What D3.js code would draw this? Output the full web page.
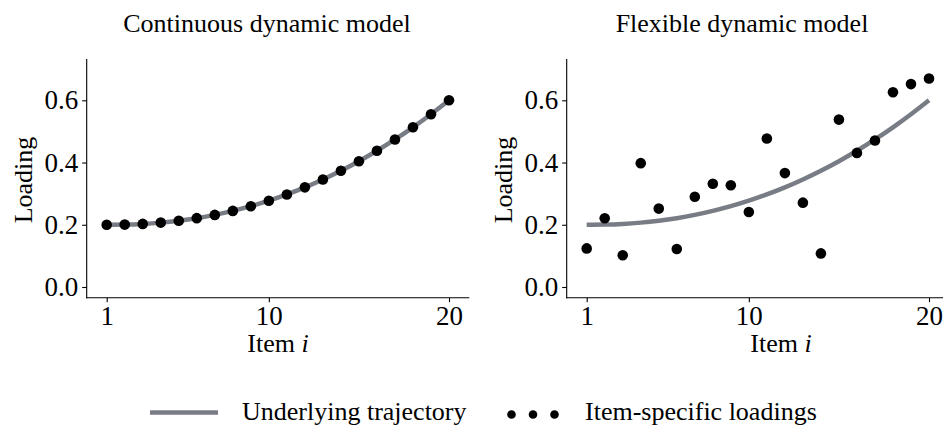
<!DOCTYPE html>
<html>
<head>
<meta charset="utf-8">
<script src="https://cdn.jsdelivr.net/npm/d3@7"></script>
<style>
  html, body { margin: 0; padding: 0; background: #fff; }
  svg { display: block; font-family: "Liberation Serif", "Times New Roman", serif; }
</style>
</head>
<body>
<svg id="chart" width="943" height="428"></svg>
<script>
// Item indices
const items = [1,2,3,4,5,6,7,8,9,10,11,12,13,14,15,16,17,18,19,20];

// Underlying trajectory (shared by both models)
const trajectory = [0.2000,0.2006,0.2028,0.2069,0.2130,0.2212,0.2317,0.2445,0.2597,0.2773,
                    0.2975,0.3202,0.3456,0.3736,0.4043,0.4378,0.4741,0.5132,0.5551,0.6000];

// Item-specific loadings, continuous model (they sit on the trajectory)
const continuousLoadings = [0.2000,0.2006,0.2028,0.2069,0.2130,0.2212,0.2317,0.2445,0.2597,0.2773,
                            0.2975,0.3202,0.3456,0.3736,0.4043,0.4378,0.4741,0.5132,0.5551,0.6000];

// Item-specific loadings, flexible model
const flexibleLoadings = [0.124,0.221,0.102,0.398,0.252,0.122,0.290,0.332,0.327,0.241,
                          0.477,0.366,0.271,0.108,0.538,0.431,0.471,0.626,0.652,0.670];

const panelTitles = ["Continuous dynamic model", "Flexible dynamic model"];
const xTicks = [1, 10, 20];
const yTicks = [0.0, 0.2, 0.4, 0.6];
const legendLabels = ["Underlying trajectory", "Item-specific loadings"];

const svg = d3.select("#chart");
const lineColor = "#787c84";
const textSize = 26;
const tickSize = 27;

const panels = [
  { title: panelTitles[0], points: continuousLoadings, left: 86.7,  right: 469.3, titleX: 267, labelX: 278 },
  { title: panelTitles[1], points: flexibleLoadings,   left: 566.7, right: 949.3, titleX: 742, labelX: 781 }
];

const plotTop = 59, plotBottom = 297.7;

panels.forEach(p => {
  const g = svg.append("g");
  // item 1 sits 20 px in from the y axis; about 18 px per item
  const x = d3.scaleLinear().domain([1, 20]).range([p.left + 20, p.left + 20 + 19 * 18.016]);
  const y = d3.scaleLinear().domain([0, 0.6]).range([287, 100.3]);

  // axis lines
  g.append("line").attr("x1", p.left).attr("x2", p.left).attr("y1", plotTop).attr("y2", plotBottom + 0.5)
    .attr("stroke", "#000").attr("stroke-width", 1.1);
  g.append("line").attr("x1", p.left - 0.5).attr("x2", p.right).attr("y1", plotBottom).attr("y2", plotBottom)
    .attr("stroke", "#000").attr("stroke-width", 1.1);

  const yAxis = d3.axisLeft(y).tickValues(yTicks).tickFormat(d3.format(".1f")).tickSize(4.5).tickPadding(4);
  const ya = g.append("g").attr("transform", `translate(${p.left},0)`).call(yAxis);
  ya.select(".domain").remove();
  ya.selectAll("line").attr("stroke", "#000").attr("stroke-width", 1.1);
  ya.selectAll("text").attr("font-family", "Liberation Serif").attr("font-size", tickSize).attr("fill", "#000");

  const xAxis = d3.axisBottom(x).tickValues(xTicks).tickFormat(d3.format("d")).tickSize(4.5).tickPadding(3.5);
  const xa = g.append("g").attr("transform", `translate(0,${plotBottom})`).call(xAxis);
  xa.select(".domain").remove();
  xa.selectAll("line").attr("stroke", "#000").attr("stroke-width", 1.1);
  xa.selectAll("text").attr("font-family", "Liberation Serif").attr("font-size", tickSize).attr("fill", "#000");

  // trajectory
  const line = d3.line().x((d, i) => x(items[i])).y(d => y(d)).curve(d3.curveNatural);
  g.append("path").datum(trajectory).attr("d", line)
    .attr("fill", "none").attr("stroke", lineColor).attr("stroke-width", 4.5);

  // loadings
  g.selectAll("circle").data(p.points).join("circle")
    .attr("cx", (d, i) => x(items[i])).attr("cy", d => y(d)).attr("r", 5.3).attr("fill", "#000");

  // titles
  g.append("text").attr("x", p.titleX).attr("y", 32).attr("text-anchor", "middle")
    .attr("font-size", textSize).text(p.title);
  g.append("text").attr("x", p.labelX).attr("y", 352).attr("text-anchor", "middle")
    .attr("font-size", textSize)
    .call(t => { t.append("tspan").text("Item "); t.append("tspan").attr("font-style", "italic").text("i"); });
  g.append("text").attr("transform", `translate(${p.left - 54.5},180) rotate(-90)`)
    .attr("text-anchor", "middle").attr("font-size", textSize).text("Loading");
});

// legend
const lg = svg.append("g");
lg.append("line").attr("x1", 150).attr("x2", 218).attr("y1", 412.5).attr("y2", 412.5)
  .attr("stroke", lineColor).attr("stroke-width", 4.5);
lg.append("text").attr("x", 242).attr("y", 420).attr("font-size", textSize).text(legendLabels[0]);
[511.5, 533, 554.5].forEach(cx => lg.append("circle").attr("cx", cx).attr("cy", 414.5).attr("r", 4.3).attr("fill", "#000"));
lg.append("text").attr("x", 585).attr("y", 420).attr("font-size", textSize).text(legendLabels[1]);
</script>
</body>
</html>
